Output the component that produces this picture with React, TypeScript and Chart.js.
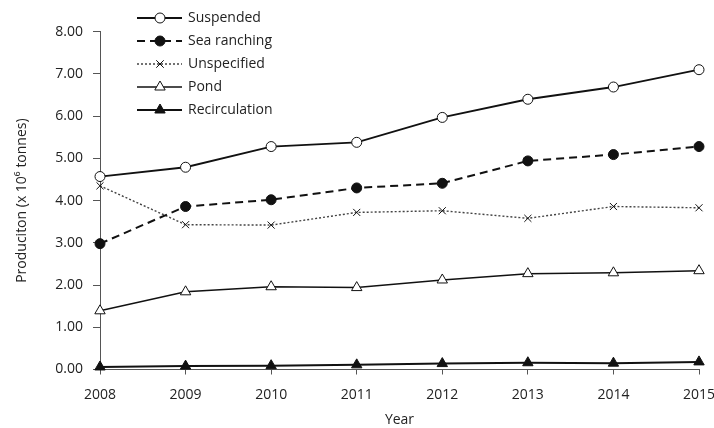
import React, { useEffect, useRef } from "react";
import { Chart, registerables } from "chart.js";

Chart.register(...registerables);

const years = ["2008", "2009", "2010", "2011", "2012", "2013", "2014", "2015"];
const suspended = [4.57, 4.79, 5.28, 5.38, 5.97, 6.4, 6.69, 7.1];
const seaRanching = [2.98, 3.86, 4.02, 4.3, 4.41, 4.94, 5.09, 5.28];
const unspecified = [4.35, 3.43, 3.42, 3.72, 3.76, 3.58, 3.86, 3.83];
const pond = [1.39, 1.84, 1.96, 1.94, 2.12, 2.27, 2.29, 2.34];
const recirculation = [0.06, 0.08, 0.09, 0.11, 0.14, 0.16, 0.15, 0.18];

const FONT = "'Open Sans', sans-serif";
const INK = "#111";
const TEXT = "#222";
const AXIS = "#555";

function drawMarker(ctx: CanvasRenderingContext2D, style: string, x: number, y: number, r: number, fill: string, stroke: string, lw: number) {
  ctx.save();
  ctx.setLineDash([]);
  ctx.lineWidth = lw;
  ctx.strokeStyle = stroke;
  ctx.fillStyle = fill;
  ctx.beginPath();
  if (style === "circle") {
    ctx.arc(x, y, r, 0, Math.PI * 2);
    ctx.fill();
    ctx.stroke();
  } else if (style === "triangle") {
    const h = r * 1.5;
    const half = (r * Math.sqrt(3)) / 2;
    ctx.moveTo(x, y - r);
    ctx.lineTo(x + half, y - r + h);
    ctx.lineTo(x - half, y - r + h);
    ctx.closePath();
    ctx.fill();
    ctx.stroke();
  } else if (style === "crossRot") {
    const d = r * 0.75;
    ctx.moveTo(x - d, y - d);
    ctx.lineTo(x + d, y + d);
    ctx.moveTo(x + d, y - d);
    ctx.lineTo(x - d, y + d);
    ctx.stroke();
  }
  ctx.restore();
}

const legendPlugin = {
  id: "lineLegend",
  afterDraw(chart: any) {
    const ctx: CanvasRenderingContext2D = chart.ctx;
    chart.data.datasets.forEach((ds: any, i: number) => {
      const y = 18 + i * 23;
      ctx.save();
      ctx.strokeStyle = ds.borderColor;
      ctx.lineWidth = ds.borderWidth;
      ctx.setLineDash(ds.borderDash || []);
      ctx.beginPath();
      ctx.moveTo(137, y);
      ctx.lineTo(182, y);
      ctx.stroke();
      ctx.restore();
      drawMarker(ctx, ds.pointStyle, 160, y, ds.pointRadius, ds.pointBackgroundColor, ds.pointBorderColor, ds.pointBorderWidth);
      ctx.save();
      ctx.fillStyle = TEXT;
      ctx.font = `14px ${FONT}`;
      ctx.textAlign = "left";
      ctx.textBaseline = "middle";
      ctx.fillText(ds.label, 188, y);
      ctx.restore();
    });
  },
};

export default function App() {
  const ref = useRef<HTMLCanvasElement | null>(null);
  useEffect(() => {
    if (!ref.current) return;
    const mk = (label: string, data: number[], style: string, fill: string, dash: number[], width: number, r: number, color = INK) => ({
      label,
      data,
      borderColor: color,
      borderWidth: width,
      borderDash: dash,
      pointStyle: style,
      pointRadius: r,
      pointBackgroundColor: fill,
      pointBorderColor: INK,
      pointBorderWidth: 1,
      tension: 0,
      clip: false,
      fill: false,
    });
    const chart = new Chart(ref.current, {
      type: "line",
      data: {
        labels: years,
        datasets: [
          mk("Suspended", suspended, "circle", "#fff", [], 1.8, 5),
          mk("Sea ranching", seaRanching, "circle", INK, [8, 5], 2, 5),
          mk("Unspecified", unspecified, "crossRot", INK, [2, 2], 1.4, 5, "#444"),
          mk("Pond", pond, "triangle", "#fff", [], 1.5, 6),
          mk("Recirculation", recirculation, "triangle", INK, [], 2, 6),
        ] as any,
      },
      options: {
        animation: false,
        responsive: false,
        devicePixelRatio: 1,
        layout: { padding: { top: 31.7, right: 15, bottom: 0, left: 0 } },
        plugins: { legend: { display: false }, tooltip: { enabled: false } },
        scales: {
          x: {
            type: "category",
            offset: false,
            afterFit: (s: any) => {
              s.height = 58.5;
              s.paddingRight = 0;
              s.paddingLeft = 0;
            },
            grid: { display: true, drawOnChartArea: false, drawTicks: true, tickLength: 5, color: AXIS },
            border: { display: true, color: AXIS, width: 1 },
            ticks: { color: TEXT, font: { family: FONT, size: 14 }, padding: 12, maxRotation: 0, autoSkip: false },
            title: { display: true, text: "Year", color: TEXT, font: { family: FONT, size: 14 }, padding: { top: 0, bottom: 0 } },
          },
          y: {
            min: 0,
            max: 8,
            afterFit: (s: any) => {
              s.width = 100;
            },
            grid: { display: true, drawOnChartArea: false, drawTicks: true, tickLength: 7, color: AXIS },
            border: { display: true, color: AXIS, width: 1 },
            ticks: {
              stepSize: 1,
              color: TEXT,
              font: { family: FONT, size: 14 },
              padding: 10,
              callback: (v: any) => Number(v).toFixed(2),
            },
            title: {
              display: true,
              text: "Produciton (x 10⁶ tonnes)",
              color: TEXT,
              font: { family: FONT, size: 14 },
              padding: { top: 13.6, bottom: 0 },
            },
          },
        },
      },
      plugins: [legendPlugin],
    });
    return () => chart.destroy();
  }, []);
  return (
    <div style={{ position: "fixed", left: 0, top: 0, width: 714, height: 428, background: "#fff" }}>
      <canvas ref={ref} width={714} height={428} style={{ display: "block", width: 714, height: 428 }} />
    </div>
  );
}
